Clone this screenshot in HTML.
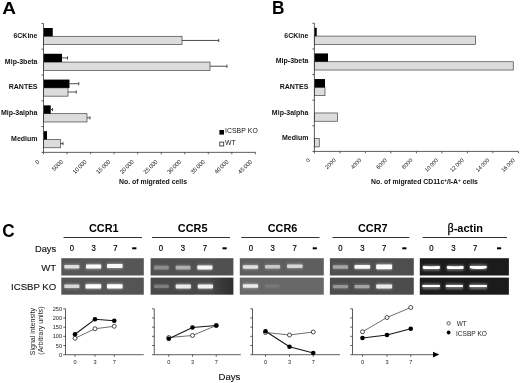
<!DOCTYPE html>
<html><head><meta charset="utf-8"><title>Figure</title>
<style>html,body{margin:0;padding:0;background:#fff}svg{display:block;filter:blur(0.3px)}</style>
</head><body>
<svg width="520" height="383" viewBox="0 0 520 383" font-family="Liberation Sans, Arial, sans-serif">
<rect width="520" height="383" fill="#fff"/>
<text transform="translate(2.3 14.3) scale(1.1 1)" font-size="17.3" font-weight="bold" text-anchor="start" fill="#000" >A</text>
<rect x="43.5" y="36.30" width="138.50" height="8.3" fill="#dcdcdc" stroke="#444" stroke-width="0.7"/>
<path d="M182.00 40.45H218.75M218.75 38.84V42.05" stroke="#222" stroke-width="0.8" fill="none"/>
<rect x="43.5" y="28.00" width="9.25" height="8.3" fill="#000"/>
<rect x="43.5" y="62.08" width="166.50" height="8.3" fill="#dcdcdc" stroke="#444" stroke-width="0.7"/>
<path d="M210.00 66.23H227.00M227.00 64.64V67.83" stroke="#222" stroke-width="0.8" fill="none"/>
<rect x="43.5" y="53.78" width="18.50" height="8.3" fill="#000"/>
<path d="M62.00 57.93H67.50M67.50 56.33V59.53" stroke="#222" stroke-width="0.8" fill="none"/>
<rect x="43.5" y="87.87" width="24.50" height="8.3" fill="#dcdcdc" stroke="#444" stroke-width="0.7"/>
<path d="M68.00 92.02H76.25M76.25 90.42V93.62" stroke="#222" stroke-width="0.8" fill="none"/>
<rect x="43.5" y="79.57" width="26.00" height="8.3" fill="#000"/>
<path d="M69.50 83.72H78.75M78.75 82.12V85.32" stroke="#222" stroke-width="0.8" fill="none"/>
<rect x="43.5" y="113.67" width="43.50" height="8.3" fill="#dcdcdc" stroke="#444" stroke-width="0.7"/>
<path d="M87.00 117.82H90.00M90.00 116.22V119.42" stroke="#222" stroke-width="0.8" fill="none"/>
<rect x="43.5" y="105.37" width="7.25" height="8.3" fill="#000"/>
<path d="M50.75 109.52H52.50M52.50 107.92V111.11" stroke="#222" stroke-width="0.8" fill="none"/>
<rect x="43.5" y="139.46" width="17.00" height="8.3" fill="#dcdcdc" stroke="#444" stroke-width="0.7"/>
<path d="M60.50 143.61H63.00M63.00 142.01V145.21" stroke="#222" stroke-width="0.8" fill="none"/>
<rect x="43.5" y="131.16" width="3.50" height="8.3" fill="#000"/>
<path d="M43.5 23.4V152.35H255.36M41.5 23.40H43.5M41.5 49.19H43.5M41.5 74.98H43.5M41.5 100.77H43.5M41.5 126.56H43.5M41.5 152.35H43.5M43.50 152.35V154.25M67.04 152.35V154.25M90.58 152.35V154.25M114.12 152.35V154.25M137.66 152.35V154.25M161.20 152.35V154.25M184.74 152.35V154.25M208.28 152.35V154.25M231.82 152.35V154.25M255.36 152.35V154.25" stroke="#333" stroke-width="0.8" fill="none"/>
<text transform="translate(37.5 37.90) scale(0.96 1)" font-size="7.3" font-weight="bold" text-anchor="end" fill="#111" >6CKine</text>
<text transform="translate(37.5 63.68) scale(0.96 1)" font-size="7.3" font-weight="bold" text-anchor="end" fill="#111" >Mip-3beta</text>
<text transform="translate(37.5 89.47) scale(0.96 1)" font-size="7.3" font-weight="bold" text-anchor="end" fill="#111" >RANTES</text>
<text transform="translate(37.5 115.27) scale(0.96 1)" font-size="7.3" font-weight="bold" text-anchor="end" fill="#111" >Mip-3alpha</text>
<text transform="translate(37.5 141.06) scale(0.96 1)" font-size="7.3" font-weight="bold" text-anchor="end" fill="#111" >Medium</text>
<text transform="translate(39.80 162.15) rotate(-45)" font-size="5.8" text-anchor="end" fill="#111" word-spacing="-0.5">0</text>
<text transform="translate(63.44 162.15) rotate(-45)" font-size="5.8" text-anchor="end" fill="#111" word-spacing="-0.5">5000</text>
<text transform="translate(87.08 162.15) rotate(-45)" font-size="5.8" text-anchor="end" fill="#111" word-spacing="-0.5">10 000</text>
<text transform="translate(110.72 162.15) rotate(-45)" font-size="5.8" text-anchor="end" fill="#111" word-spacing="-0.5">15 000</text>
<text transform="translate(134.36 162.15) rotate(-45)" font-size="5.8" text-anchor="end" fill="#111" word-spacing="-0.5">20 000</text>
<text transform="translate(158.00 162.15) rotate(-45)" font-size="5.8" text-anchor="end" fill="#111" word-spacing="-0.5">25 000</text>
<text transform="translate(181.64 162.15) rotate(-45)" font-size="5.8" text-anchor="end" fill="#111" word-spacing="-0.5">30 000</text>
<text transform="translate(205.28 162.15) rotate(-45)" font-size="5.8" text-anchor="end" fill="#111" word-spacing="-0.5">35 000</text>
<text transform="translate(228.92 162.15) rotate(-45)" font-size="5.8" text-anchor="end" fill="#111" word-spacing="-0.5">40 000</text>
<text transform="translate(252.56 162.15) rotate(-45)" font-size="5.8" text-anchor="end" fill="#111" word-spacing="-0.5">45 000</text>
<text transform="translate(153 184.0) scale(0.95 1)" font-size="7.3" font-weight="bold" text-anchor="middle" fill="#111" >No. of migrated cells</text>
<rect x="219.4" y="130.0" width="4.6" height="4.6" fill="#000"/>
<text x="224.9" y="133.2" font-size="6.9" font-weight="normal" text-anchor="start" fill="#111" letter-spacing="0.08">ICSBP KO</text>
<rect x="219.8" y="142.1" width="3.9" height="3.9" fill="#fff" stroke="#222" stroke-width="0.8"/>
<text x="224.9" y="145.0" font-size="6.9" font-weight="normal" text-anchor="start" fill="#111" >WT</text>
<text transform="translate(271.9 14.2) scale(0.98 1)" font-size="17.6" font-weight="bold" text-anchor="start" fill="#000" >B</text>
<rect x="314.4" y="36.11" width="161.10" height="8.3" fill="#dcdcdc" stroke="#444" stroke-width="0.7"/>
<rect x="314.4" y="27.81" width="2.35" height="8.3" fill="#000"/>
<rect x="314.4" y="61.73" width="198.85" height="8.3" fill="#dcdcdc" stroke="#444" stroke-width="0.7"/>
<rect x="314.4" y="53.43" width="13.60" height="8.3" fill="#000"/>
<rect x="314.4" y="87.35" width="10.60" height="8.3" fill="#dcdcdc" stroke="#444" stroke-width="0.7"/>
<rect x="314.4" y="79.05" width="10.60" height="8.3" fill="#000"/>
<rect x="314.4" y="112.97" width="23.10" height="8.3" fill="#dcdcdc" stroke="#444" stroke-width="0.7"/>
<rect x="314.4" y="138.59" width="4.85" height="8.3" fill="#dcdcdc" stroke="#444" stroke-width="0.7"/>
<path d="M314.4 23.3V151.4H518.40M312.4 23.30H314.4M312.4 48.92H314.4M312.4 74.54H314.4M312.4 100.16H314.4M312.4 125.78H314.4M312.4 151.40H314.4M314.40 151.4V153.3M339.90 151.4V153.3M365.40 151.4V153.3M390.90 151.4V153.3M416.40 151.4V153.3M441.90 151.4V153.3M467.40 151.4V153.3M492.90 151.4V153.3M518.40 151.4V153.3" stroke="#333" stroke-width="0.8" fill="none"/>
<text transform="translate(308.4 37.71) scale(0.96 1)" font-size="7.3" font-weight="bold" text-anchor="end" fill="#111" >6CKine</text>
<text transform="translate(308.4 63.33) scale(0.96 1)" font-size="7.3" font-weight="bold" text-anchor="end" fill="#111" >Mip-3beta</text>
<text transform="translate(308.4 88.95) scale(0.96 1)" font-size="7.3" font-weight="bold" text-anchor="end" fill="#111" >RANTES</text>
<text transform="translate(308.4 114.57) scale(0.96 1)" font-size="7.3" font-weight="bold" text-anchor="end" fill="#111" >Mip-3alpha</text>
<text transform="translate(308.4 140.19) scale(0.96 1)" font-size="7.3" font-weight="bold" text-anchor="end" fill="#111" >Medium</text>
<text transform="translate(310.50 160.60) rotate(-45)" font-size="5.6" text-anchor="end" fill="#111" word-spacing="-0.5">0</text>
<text transform="translate(336.10 160.60) rotate(-45)" font-size="5.6" text-anchor="end" fill="#111" word-spacing="-0.5">2000</text>
<text transform="translate(361.70 160.60) rotate(-45)" font-size="5.6" text-anchor="end" fill="#111" word-spacing="-0.5">4000</text>
<text transform="translate(387.30 160.60) rotate(-45)" font-size="5.6" text-anchor="end" fill="#111" word-spacing="-0.5">6000</text>
<text transform="translate(412.90 160.60) rotate(-45)" font-size="5.6" text-anchor="end" fill="#111" word-spacing="-0.5">8000</text>
<text transform="translate(438.50 160.60) rotate(-45)" font-size="5.6" text-anchor="end" fill="#111" word-spacing="-0.5">10 000</text>
<text transform="translate(464.10 160.60) rotate(-45)" font-size="5.6" text-anchor="end" fill="#111" word-spacing="-0.5">12 000</text>
<text transform="translate(489.70 160.60) rotate(-45)" font-size="5.6" text-anchor="end" fill="#111" word-spacing="-0.5">14 000</text>
<text transform="translate(515.30 160.60) rotate(-45)" font-size="5.6" text-anchor="end" fill="#111" word-spacing="-0.5">16 000</text>
<text transform="translate(424.5 184.1) scale(0.94 1)" font-size="7.3" font-weight="bold" text-anchor="middle" fill="#111" >No. of migrated CD11c<tspan font-size="5" dy="-2.5">+</tspan><tspan dy="2.5">/I-A</tspan><tspan font-size="5" dy="-2.5">+</tspan><tspan dy="2.5"> cells</tspan></text>
<text transform="translate(2.2 236.9) scale(0.915 1)" font-size="18.7" font-weight="bold" text-anchor="start" fill="#000" >C</text>
<text transform="translate(103.8 232.3) scale(1.06 1)" font-size="10.3" font-weight="bold" text-anchor="middle" fill="#000" >CCR1</text>
<path d="M63.5 237.5H142" stroke="#333" stroke-width="1"/>
<text transform="translate(72 250.9) scale(0.88 1)" font-size="8.8" font-weight="normal" text-anchor="middle" fill="#000" stroke="#000" stroke-width="0.2">0</text>
<text transform="translate(93.75 250.9) scale(0.88 1)" font-size="8.8" font-weight="normal" text-anchor="middle" fill="#000" stroke="#000" stroke-width="0.2">3</text>
<text transform="translate(115.5 250.9) scale(0.88 1)" font-size="8.8" font-weight="normal" text-anchor="middle" fill="#000" stroke="#000" stroke-width="0.2">7</text>
<rect x="132.2" y="247.3" width="4.2" height="2.0" fill="#000"/>
<text transform="translate(192.7 232.3) scale(1.06 1)" font-size="10.3" font-weight="bold" text-anchor="middle" fill="#000" >CCR5</text>
<path d="M152 237.5H230" stroke="#333" stroke-width="1"/>
<text transform="translate(161 250.9) scale(0.88 1)" font-size="8.8" font-weight="normal" text-anchor="middle" fill="#000" stroke="#000" stroke-width="0.2">0</text>
<text transform="translate(183 250.9) scale(0.88 1)" font-size="8.8" font-weight="normal" text-anchor="middle" fill="#000" stroke="#000" stroke-width="0.2">3</text>
<text transform="translate(205 250.9) scale(0.88 1)" font-size="8.8" font-weight="normal" text-anchor="middle" fill="#000" stroke="#000" stroke-width="0.2">7</text>
<rect x="222.5" y="247.3" width="4.2" height="2.0" fill="#000"/>
<text transform="translate(282.5 232.3) scale(1.06 1)" font-size="10.3" font-weight="bold" text-anchor="middle" fill="#000" >CCR6</text>
<path d="M241.25 237.5H319.5" stroke="#333" stroke-width="1"/>
<text transform="translate(251 250.9) scale(0.88 1)" font-size="8.8" font-weight="normal" text-anchor="middle" fill="#000" stroke="#000" stroke-width="0.2">0</text>
<text transform="translate(272.7 250.9) scale(0.88 1)" font-size="8.8" font-weight="normal" text-anchor="middle" fill="#000" stroke="#000" stroke-width="0.2">3</text>
<text transform="translate(294.7 250.9) scale(0.88 1)" font-size="8.8" font-weight="normal" text-anchor="middle" fill="#000" stroke="#000" stroke-width="0.2">7</text>
<rect x="312.7" y="247.3" width="4.2" height="2.0" fill="#000"/>
<text transform="translate(372.75 232.3) scale(1.06 1)" font-size="10.3" font-weight="bold" text-anchor="middle" fill="#000" >CCR7</text>
<path d="M332.5 237.5H409.5" stroke="#333" stroke-width="1"/>
<text transform="translate(340.5 250.9) scale(0.88 1)" font-size="8.8" font-weight="normal" text-anchor="middle" fill="#000" stroke="#000" stroke-width="0.2">0</text>
<text transform="translate(362.5 250.9) scale(0.88 1)" font-size="8.8" font-weight="normal" text-anchor="middle" fill="#000" stroke="#000" stroke-width="0.2">3</text>
<text transform="translate(384.25 250.9) scale(0.88 1)" font-size="8.8" font-weight="normal" text-anchor="middle" fill="#000" stroke="#000" stroke-width="0.2">7</text>
<rect x="402.25" y="247.3" width="4.2" height="2.0" fill="#000"/>
<text transform="translate(465.2 232.3) scale(1.07 1)" font-size="10.3" font-weight="bold" text-anchor="middle" fill="#000" ><tspan font-family="Liberation Serif, serif" font-weight="normal" font-size="11.5" stroke="#000" stroke-width="0.25">β</tspan>-actin</text>
<path d="M422.5 237.5H507" stroke="#333" stroke-width="1"/>
<text transform="translate(431.3 250.9) scale(0.88 1)" font-size="8.8" font-weight="normal" text-anchor="middle" fill="#000" stroke="#000" stroke-width="0.2">0</text>
<text transform="translate(453.4 250.9) scale(0.88 1)" font-size="8.8" font-weight="normal" text-anchor="middle" fill="#000" stroke="#000" stroke-width="0.2">3</text>
<text transform="translate(475.2 250.9) scale(0.88 1)" font-size="8.8" font-weight="normal" text-anchor="middle" fill="#000" stroke="#000" stroke-width="0.2">7</text>
<rect x="497.0" y="247.3" width="4.2" height="2.0" fill="#000"/>
<text transform="translate(56.2 252.1) scale(0.975 1)" font-size="9.6" font-weight="normal" text-anchor="end" fill="#111" stroke="#111" stroke-width="0.12">Days</text>
<text transform="translate(56.2 270.5) scale(1.0 1)" font-size="9.6" font-weight="normal" text-anchor="end" fill="#111" stroke="#111" stroke-width="0.12">WT</text>
<text transform="translate(56.2 289.5) scale(1.0 1)" font-size="9.6" font-weight="normal" text-anchor="end" fill="#111" stroke="#111" stroke-width="0.12">ICSBP KO</text>
<defs><filter id="bl" x="-10%" y="-40%" width="120%" height="180%"><feGaussianBlur stdDeviation="0.55"/></filter><filter id="gl" x="-20%" y="-100%" width="140%" height="300%"><feGaussianBlur stdDeviation="1.3"/></filter><linearGradient id="dk" x1="0" x2="1" y1="0" y2="0"><stop offset="0" stop-color="#484848"/><stop offset="0.72" stop-color="#484848"/><stop offset="0.87" stop-color="#383838"/><stop offset="1" stop-color="#303030"/></linearGradient></defs>
<rect x="61.3" y="258.2" width="82.50" height="17.30" fill="#565656"/>
<g filter="url(#gl)" opacity="0.4">
<rect x="64.3" y="264.10" width="15.10" height="5.20" fill="#dedede"/>
<rect x="86" y="263.80" width="15.20" height="5.60" fill="#fafafa"/>
<rect x="107" y="263.20" width="15.60" height="5.60" fill="#fafafa"/>
</g>
<g filter="url(#bl)">
<rect x="64.3" y="264.90" width="15.10" height="3.6" rx="0.9" fill="#dedede"/>
<rect x="86" y="264.60" width="15.20" height="4.0" rx="0.9" fill="#fafafa"/>
<rect x="107" y="264.00" width="15.60" height="4.0" rx="0.9" fill="#fafafa"/>
</g>
<rect x="61.3" y="277.6" width="82.50" height="17.10" fill="#545454"/>
<g filter="url(#gl)" opacity="0.4">
<rect x="64.3" y="283.70" width="15.10" height="5.20" fill="#d7d7d7"/>
<rect x="85.5" y="283.40" width="15.70" height="5.80" fill="#ffffff"/>
<rect x="107" y="283.40" width="15.60" height="5.80" fill="#ffffff"/>
</g>
<g filter="url(#bl)">
<rect x="64.3" y="284.50" width="15.10" height="3.6" rx="0.9" fill="#d7d7d7"/>
<rect x="85.5" y="284.20" width="15.70" height="4.2" rx="0.9" fill="#ffffff"/>
<rect x="107" y="284.20" width="15.60" height="4.2" rx="0.9" fill="#ffffff"/>
</g>
<rect x="150.6" y="258.2" width="82.80" height="17.30" fill="#505050"/>
<g filter="url(#gl)" opacity="0.4">
<rect x="154" y="265.00" width="14.80" height="5.20" fill="#8c8c8c"/>
<rect x="175.7" y="265.00" width="14.70" height="5.20" fill="#afafaf"/>
<rect x="197.3" y="264.60" width="15.10" height="5.60" fill="#f5f5f5"/>
</g>
<g filter="url(#bl)">
<rect x="154" y="265.80" width="14.80" height="3.6" rx="0.9" fill="#8c8c8c"/>
<rect x="175.7" y="265.80" width="14.70" height="3.6" rx="0.9" fill="#afafaf"/>
<rect x="197.3" y="265.40" width="15.10" height="4.0" rx="0.9" fill="#f5f5f5"/>
</g>
<rect x="150.6" y="277.6" width="82.80" height="17.10" fill="url(#dk)"/>
<g filter="url(#gl)" opacity="0.4">
<rect x="154" y="283.90" width="14.80" height="5.00" fill="#7d7d7d"/>
<rect x="175.7" y="283.60" width="15.20" height="5.60" fill="#ebebeb"/>
<rect x="197.8" y="283.60" width="15.20" height="5.60" fill="#f0f0f0"/>
</g>
<g filter="url(#bl)">
<rect x="154" y="284.70" width="14.80" height="3.4" rx="0.9" fill="#7d7d7d"/>
<rect x="175.7" y="284.40" width="15.20" height="4.0" rx="0.9" fill="#ebebeb"/>
<rect x="197.8" y="284.40" width="15.20" height="4.0" rx="0.9" fill="#f0f0f0"/>
</g>
<rect x="239.8" y="258.2" width="84.00" height="17.30" fill="#5e5e5e"/>
<g filter="url(#gl)" opacity="0.4">
<rect x="242.9" y="264.50" width="15.20" height="5.00" fill="#e1e1e1"/>
<rect x="265" y="264.30" width="15.10" height="5.00" fill="#c8c8c8"/>
<rect x="287" y="263.60" width="15.60" height="5.20" fill="#d7d7d7"/>
</g>
<g filter="url(#bl)">
<rect x="242.9" y="265.30" width="15.20" height="3.4" rx="0.9" fill="#e1e1e1"/>
<rect x="265" y="265.10" width="15.10" height="3.4" rx="0.9" fill="#c8c8c8"/>
<rect x="287" y="264.40" width="15.60" height="3.6" rx="0.9" fill="#d7d7d7"/>
</g>
<rect x="239.8" y="277.6" width="84.00" height="17.10" fill="#686868"/>
<g filter="url(#gl)" opacity="0.4">
<rect x="242.9" y="283.40" width="15.20" height="5.20" fill="#ebebeb"/>
<rect x="265" y="283.70" width="14.50" height="4.60" fill="#787878"/>
</g>
<g filter="url(#bl)">
<rect x="242.9" y="284.20" width="15.20" height="3.6" rx="0.9" fill="#ebebeb"/>
<rect x="265" y="284.50" width="14.50" height="3.0" rx="0.9" fill="#787878"/>
</g>
<rect x="329.9" y="258.2" width="83.90" height="17.30" fill="#4e4e4e"/>
<g filter="url(#gl)" opacity="0.4">
<rect x="332.9" y="264.50" width="15.20" height="5.00" fill="#a5a5a5"/>
<rect x="354.5" y="264.10" width="15.60" height="5.40" fill="#fafafa"/>
<rect x="376.2" y="263.60" width="15.90" height="6.40" fill="#ffffff"/>
</g>
<g filter="url(#bl)">
<rect x="332.9" y="265.30" width="15.20" height="3.4" rx="0.9" fill="#a5a5a5"/>
<rect x="354.5" y="264.90" width="15.60" height="3.8" rx="0.9" fill="#fafafa"/>
<rect x="376.2" y="264.40" width="15.90" height="4.8" rx="0.9" fill="#ffffff"/>
</g>
<rect x="329.9" y="277.6" width="83.90" height="17.10" fill="#4c4c4c"/>
<g filter="url(#gl)" opacity="0.4">
<rect x="332.9" y="284.10" width="15.20" height="5.00" fill="#969696"/>
<rect x="354.5" y="284.10" width="15.00" height="5.00" fill="#a5a5a5"/>
<rect x="376.2" y="283.60" width="15.90" height="5.60" fill="#ebebeb"/>
</g>
<g filter="url(#bl)">
<rect x="332.9" y="284.90" width="15.20" height="3.4" rx="0.9" fill="#969696"/>
<rect x="354.5" y="284.90" width="15.00" height="3.4" rx="0.9" fill="#a5a5a5"/>
<rect x="376.2" y="284.40" width="15.90" height="4.0" rx="0.9" fill="#ebebeb"/>
</g>
<rect x="419.8" y="258.2" width="89.10" height="17.30" fill="#1b1b1b"/>
<g filter="url(#gl)" opacity="0.4">
<rect x="422.7" y="265.15" width="17.30" height="5.30" fill="#ffffff"/>
<rect x="446.8" y="265.15" width="16.90" height="5.30" fill="#ffffff"/>
<rect x="469.8" y="264.45" width="17.00" height="5.30" fill="#ffffff"/>
</g>
<g filter="url(#bl)">
<path d="M424.30 267.45Q431.35 268.55 438.40 267.45" stroke="#ffffff" stroke-width="3.3000000000000003" stroke-linecap="round" fill="none"/>
<path d="M448.40 267.45Q455.25 268.55 462.10 267.45" stroke="#ffffff" stroke-width="3.3000000000000003" stroke-linecap="round" fill="none"/>
<path d="M471.40 266.75Q478.30 267.85 485.20 266.75" stroke="#ffffff" stroke-width="3.3000000000000003" stroke-linecap="round" fill="none"/>
</g>
<rect x="419.8" y="277.6" width="89.10" height="17.10" fill="#1b1b1b"/>
<g filter="url(#gl)" opacity="0.4">
<rect x="422.3" y="283.70" width="17.70" height="5.40" fill="#ffffff"/>
<rect x="445.8" y="283.70" width="17.20" height="5.40" fill="#ffffff"/>
<rect x="469.5" y="283.70" width="17.50" height="5.40" fill="#ffffff"/>
</g>
<g filter="url(#bl)">
<path d="M423.90 286.05Q431.15 287.15 438.40 286.05" stroke="#ffffff" stroke-width="3.4" stroke-linecap="round" fill="none"/>
<path d="M447.40 286.05Q454.40 287.15 461.40 286.05" stroke="#ffffff" stroke-width="3.4" stroke-linecap="round" fill="none"/>
<path d="M471.10 286.05Q478.25 287.15 485.40 286.05" stroke="#ffffff" stroke-width="3.4" stroke-linecap="round" fill="none"/>
</g>
<path d="M65.5 308.8V354.7H143.75M63.3 354.70H65.5M63.3 345.52H65.5M63.3 336.34H65.5M63.3 327.16H65.5M63.3 317.98H65.5M63.3 308.80H65.5M75 354.7V356.7M95 354.7V356.7M114.25 354.7V356.7" stroke="#333" stroke-width="0.8" fill="none"/>
<text x="62.0" y="356.70" font-size="5.6" font-weight="normal" text-anchor="end" fill="#222" >0</text>
<text x="62.0" y="347.52" font-size="5.6" font-weight="normal" text-anchor="end" fill="#222" >50</text>
<text x="62.0" y="338.34" font-size="5.6" font-weight="normal" text-anchor="end" fill="#222" >100</text>
<text x="62.0" y="329.16" font-size="5.6" font-weight="normal" text-anchor="end" fill="#222" >150</text>
<text x="62.0" y="319.98" font-size="5.6" font-weight="normal" text-anchor="end" fill="#222" >200</text>
<text x="62.0" y="310.80" font-size="5.6" font-weight="normal" text-anchor="end" fill="#222" >250</text>
<text x="75" y="364" font-size="5.6" font-weight="normal" text-anchor="middle" fill="#222" >0</text>
<text x="95" y="364" font-size="5.6" font-weight="normal" text-anchor="middle" fill="#222" >3</text>
<text x="114.25" y="364" font-size="5.6" font-weight="normal" text-anchor="middle" fill="#222" >7</text>
<path d="M75 338.25 L95 328.75 L114.25 326.25" stroke="#4a4a4a" stroke-width="0.8" fill="none"/>
<path d="M75 334.25 L95 319.25 L114.25 320.75" stroke="#151515" stroke-width="1.05" fill="none"/>
<circle cx="75" cy="338.25" r="2" fill="#fff" stroke="#222" stroke-width="0.8"/>
<circle cx="95" cy="328.75" r="2" fill="#fff" stroke="#222" stroke-width="0.8"/>
<circle cx="114.25" cy="326.25" r="2" fill="#fff" stroke="#222" stroke-width="0.8"/>
<circle cx="75" cy="334.25" r="2.3" fill="#000"/>
<circle cx="95" cy="319.25" r="2.3" fill="#000"/>
<circle cx="114.25" cy="320.75" r="2.3" fill="#000"/>
<path d="M154.25 308.8V354.7H240.75M152.05 354.70H154.25M152.05 345.52H154.25M152.05 336.34H154.25M152.05 327.16H154.25M152.05 317.98H154.25M152.05 308.80H154.25M168.75 354.7V356.7M192.5 354.7V356.7M216.25 354.7V356.7" stroke="#333" stroke-width="0.8" fill="none"/>
<text x="168.75" y="364" font-size="5.6" font-weight="normal" text-anchor="middle" fill="#222" >0</text>
<text x="192.5" y="364" font-size="5.6" font-weight="normal" text-anchor="middle" fill="#222" >3</text>
<text x="216.25" y="364" font-size="5.6" font-weight="normal" text-anchor="middle" fill="#222" >7</text>
<path d="M168.75 337.5 L192.5 335.5 L216.25 325.5" stroke="#4a4a4a" stroke-width="0.8" fill="none"/>
<path d="M168.75 338.75 L192.5 327.5 L216.25 325.5" stroke="#151515" stroke-width="1.05" fill="none"/>
<circle cx="168.75" cy="337.5" r="2" fill="#fff" stroke="#222" stroke-width="0.8"/>
<circle cx="192.5" cy="335.5" r="2" fill="#fff" stroke="#222" stroke-width="0.8"/>
<circle cx="216.25" cy="325.5" r="2" fill="#fff" stroke="#222" stroke-width="0.8"/>
<circle cx="168.75" cy="338.75" r="2.3" fill="#000"/>
<circle cx="192.5" cy="327.5" r="2.3" fill="#000"/>
<circle cx="216.25" cy="325.5" r="2.3" fill="#000"/>
<path d="M252.5 308.8V354.7H340M250.3 354.70H252.5M250.3 345.52H252.5M250.3 336.34H252.5M250.3 327.16H252.5M250.3 317.98H252.5M250.3 308.80H252.5M265.5 354.7V356.7M289.5 354.7V356.7M313.25 354.7V356.7" stroke="#333" stroke-width="0.8" fill="none"/>
<text x="265.5" y="364" font-size="5.6" font-weight="normal" text-anchor="middle" fill="#222" >0</text>
<text x="289.5" y="364" font-size="5.6" font-weight="normal" text-anchor="middle" fill="#222" >3</text>
<text x="313.25" y="364" font-size="5.6" font-weight="normal" text-anchor="middle" fill="#222" >7</text>
<path d="M265.5 332.5 L289.5 335 L313.25 332" stroke="#4a4a4a" stroke-width="0.8" fill="none"/>
<path d="M265.5 331.25 L289.5 346.75 L313.25 353" stroke="#151515" stroke-width="1.05" fill="none"/>
<circle cx="265.5" cy="332.5" r="2" fill="#fff" stroke="#222" stroke-width="0.8"/>
<circle cx="289.5" cy="335" r="2" fill="#fff" stroke="#222" stroke-width="0.8"/>
<circle cx="313.25" cy="332" r="2" fill="#fff" stroke="#222" stroke-width="0.8"/>
<circle cx="265.5" cy="331.25" r="2.3" fill="#000"/>
<circle cx="289.5" cy="346.75" r="2.3" fill="#000"/>
<circle cx="313.25" cy="353" r="2.3" fill="#000"/>
<path d="M352.5 308.8V354.7H433M350.3 354.70H352.5M350.3 345.52H352.5M350.3 336.34H352.5M350.3 327.16H352.5M350.3 317.98H352.5M350.3 308.80H352.5M362.5 354.7V356.7M387 354.7V356.7M410.75 354.7V356.7" stroke="#333" stroke-width="0.8" fill="none"/>
<path d="M433 351.8L439.3 354.6L433 357.4Z" fill="#000"/>
<text x="362.5" y="364" font-size="5.6" font-weight="normal" text-anchor="middle" fill="#222" >0</text>
<text x="387" y="364" font-size="5.6" font-weight="normal" text-anchor="middle" fill="#222" >3</text>
<text x="410.75" y="364" font-size="5.6" font-weight="normal" text-anchor="middle" fill="#222" >7</text>
<path d="M362.5 331.75 L387 317.5 L410.75 307.5" stroke="#4a4a4a" stroke-width="0.8" fill="none"/>
<path d="M362.5 338 L387 335 L410.75 328.75" stroke="#151515" stroke-width="1.05" fill="none"/>
<circle cx="362.5" cy="331.75" r="2" fill="#fff" stroke="#222" stroke-width="0.8"/>
<circle cx="387" cy="317.5" r="2" fill="#fff" stroke="#222" stroke-width="0.8"/>
<circle cx="410.75" cy="307.5" r="2" fill="#fff" stroke="#222" stroke-width="0.8"/>
<circle cx="362.5" cy="338" r="2.3" fill="#000"/>
<circle cx="387" cy="335" r="2.3" fill="#000"/>
<circle cx="410.75" cy="328.75" r="2.3" fill="#000"/>
<text x="0" y="0" font-size="7.0" font-weight="normal" text-anchor="middle" fill="#222" transform="translate(34.6 331.6) rotate(-90)">Signal intensity</text>
<text x="0" y="0" font-size="7.05" font-weight="normal" text-anchor="middle" fill="#222" transform="translate(43.2 330.6) rotate(-90)">(Arbitrary units)</text>
<circle cx="448.6" cy="323.3" r="1.7" fill="#fff" stroke="#222" stroke-width="0.7"/>
<circle cx="448.6" cy="332.5" r="1.9" fill="#000"/>
<text x="456.7" y="325.7" font-size="6.45" font-weight="normal" text-anchor="start" fill="#222" >WT</text>
<text x="455.9" y="336.0" font-size="6.6" font-weight="normal" text-anchor="start" fill="#222" >ICSBP KO</text>
<text transform="translate(229.4 379.8) scale(1.0 1)" font-size="9.6" font-weight="normal" text-anchor="middle" fill="#111" stroke="#111" stroke-width="0.12">Days</text>
</svg>
</body></html>
